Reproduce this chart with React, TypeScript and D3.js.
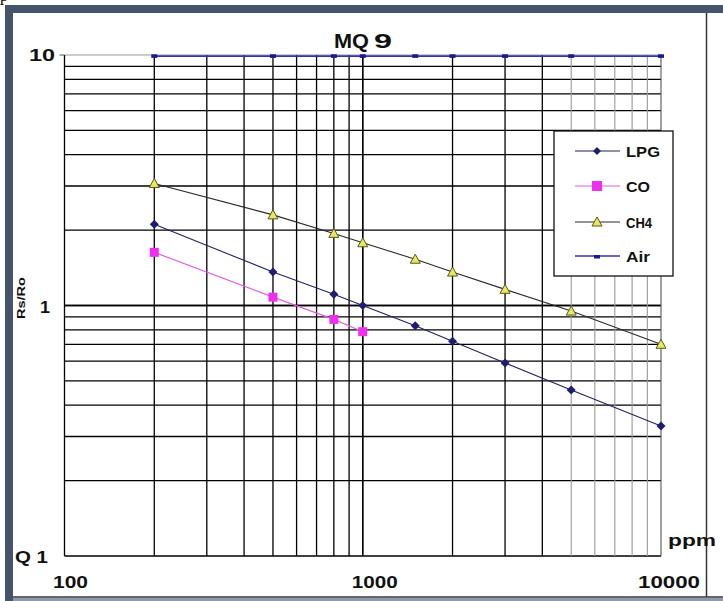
import React from "react";
import * as d3 from "d3";

const W = 723;
const H = 601;

const xTickValues = [100, 1000, 10000];
const xTickLabels = ["100", "1000", "10000"];
const yTickValues = [0.1, 1, 10];
const yTickLabels = ["Q 1", "1", "10"];

const ppm = [200, 500, 800, 1000, 1500, 2000, 3000, 5000, 10000];
const lpg = [2.11, 1.36, 1.11, 1.0, 0.83, 0.72, 0.59, 0.46, 0.33];
const coPpm = [200, 500, 800, 1000];
const co = [1.63, 1.08, 0.88, 0.786];
const ch4 = [3.07, 2.3, 1.94, 1.78, 1.53, 1.36, 1.16, 0.95, 0.7];
const air = [9.9, 9.9, 9.9, 9.9, 9.9, 9.9, 9.9, 9.9, 9.9];

const legendNames = ["LPG", "CO", "CH4", "Air"];

const x = d3.scaleLog().domain([100, 10000]).range([64.5, 661]);
const y = d3.scaleLog().domain([0.1, 10]).range([556, 55]);

const xGrid: number[] = [];
for (let d = 100; d < 10000; d *= 10) for (let k = 1; k <= 10; k++) xGrid.push(d * k);
const yGrid: number[] = [];
for (let d = 0.1; d < 9; d *= 10) for (let k = 1; k <= 10; k++) yGrid.push(+(d * k).toFixed(3));

const line = d3
  .line<[number, number]>()
  .x((d) => x(d[0]))
  .y((d) => y(d[1]));

const FONT = "'Liberation Sans', Arial, sans-serif";

function Diamond({ cx, cy, s, fill }: { cx: number; cy: number; s: number; fill: string }) {
  return <path d={`M${cx},${cy - s}L${cx + s},${cy}L${cx},${cy + s}L${cx - s},${cy}Z`} fill={fill} />;
}
function Tri({ cx, cy }: { cx: number; cy: number }) {
  return (
    <path
      d={`M${cx},${cy - 5}L${cx + 5},${cy + 4}L${cx - 5},${cy + 4}Z`}
      fill="#e6e66a"
      stroke="#5a5a10"
      strokeWidth={1}
    />
  );
}

export default function App() {
  const [x0, x1] = x.range();
  const [yb, yt] = y.range();
  const lpgPts = ppm.map((p, i) => [p, lpg[i]] as [number, number]);
  const coPts = coPpm.map((p, i) => [p, co[i]] as [number, number]);
  const ch4Pts = ppm.map((p, i) => [p, ch4[i]] as [number, number]);
  const airPts = ppm.map((p, i) => [p, air[i]] as [number, number]);

  const legX = 554;
  const legY = 131;
  const rows = [151, 186, 222, 256];
  const legTextLen = [34, 24, 26, 24];

  return (
    <svg
      width={W}
      height={H}
      style={{ position: "absolute", left: 0, top: 0, background: "#fff" }}
      fontFamily={FONT}
    >
      <rect x={0} y={0} width={W} height={H} fill="#fff" />
      <text x={0} y={1} fontFamily="'Liberation Serif', serif" fontSize={16} fill="#000">
        p
      </text>
      {/* frame */}
      <rect x={5} y={5} width={W - 5} height={8} fill="#44546a" />
      <rect x={5} y={5} width={8} height={H - 5} fill="#44546a" />
      <line x1={706.5} y1={13} x2={706.5} y2={597} stroke="#333" strokeWidth={1.5} />
      <line x1={13} y1={597} x2={W} y2={597} stroke="#333" strokeWidth={1.5} />
      <rect x={13} y={598} width={W - 13} height={3} fill="#8e9aab" />

      {/* grid */}
      {yGrid.map((v) => (
        <line
          key={"h" + v}
          x1={x0}
          x2={x1}
          y1={y(v)}
          y2={y(v)}
          stroke={v === 10 ? "#999" : "#000"}
          strokeWidth={v === 10 ? 1 : 1.3}
        />
      ))}
      {xGrid.map((v) => (
        <line
          key={"v" + v}
          x1={x(v)}
          x2={x(v)}
          y1={yt}
          y2={yb}
          stroke={v >= 5000 && v < 10000 ? "#9a9a9a" : v === 10000 ? "#555" : "#000"}
          strokeWidth={v >= 5000 ? 1.1 : 1.3}
        />
      ))}
      <line x1={x0 - 5} x2={x0} y1={yt} y2={yt} stroke="#555" strokeWidth={1} />

      {/* series */}
      <path d={line(airPts) || ""} fill="none" stroke="#3434a8" strokeWidth={1.8} />
      {airPts.map((p, i) => (
        <rect key={"a" + i} x={x(p[0]) - 3} y={y(p[1]) - 1.8} width={6} height={3.6} fill="#1a1a8c" />
      ))}
      <path d={line(ch4Pts) || ""} fill="none" stroke="#2a2a2a" strokeWidth={1.1} />
      <path d={line(lpgPts) || ""} fill="none" stroke="#23235e" strokeWidth={1.1} />
      <path d={line(coPts) || ""} fill="none" stroke="#e060e0" strokeWidth={1.2} />
      {ch4Pts.map((p, i) => (
        <Tri key={"c" + i} cx={x(p[0])} cy={y(p[1])} />
      ))}
      {lpgPts.map((p, i) => (
        <Diamond key={"l" + i} cx={x(p[0])} cy={y(p[1])} s={4.5} fill="#1e1e6e" />
      ))}
      {coPts.map((p, i) => (
        <rect key={"o" + i} x={x(p[0]) - 4.5} y={y(p[1]) - 4.5} width={9} height={9} fill="#ee30ee" />
      ))}

      {/* legend */}
      <rect x={legX} y={legY} width={119} height={145} fill="#fff" stroke="#111" strokeWidth={1.3} />
      <line x1={575} x2={620} y1={rows[0]} y2={rows[0]} stroke="#23235e" strokeWidth={1.2} />
      <Diamond cx={597} cy={rows[0]} s={4} fill="#1e1e6e" />
      <line x1={575} x2={620} y1={rows[1]} y2={rows[1]} stroke="#e060e0" strokeWidth={1.2} />
      <rect x={592} y={rows[1] - 5} width={10} height={10} fill="#ee30ee" />
      <line x1={575} x2={620} y1={rows[2]} y2={rows[2]} stroke="#2a2a2a" strokeWidth={1.2} />
      <Tri cx={597} cy={rows[2]} />
      <line x1={575} x2={620} y1={rows[3]} y2={rows[3]} stroke="#3434a8" strokeWidth={1.6} />
      <rect x={594} y={rows[3] - 1} width={6} height={3.5} fill="#1a1a8c" />
      {legendNames.map((n, i) => (
        <text
          key={n}
          x={626}
          y={rows[i] + 5.5}
          fontSize={15}
          fontWeight="bold"
          fill="#111"
          textLength={legTextLen[i]}
          lengthAdjust="spacingAndGlyphs"
        >
          {n}
        </text>
      ))}

      {/* title */}
      <text x={334} y={48} fontSize={20} fontWeight="bold" fill="#111">
        <tspan textLength={35} lengthAdjust="spacingAndGlyphs">MQ</tspan>
        <tspan x={374} textLength={18} lengthAdjust="spacingAndGlyphs">9</tspan>
      </text>

      {/* y labels */}
      {yTickValues.map((v, i) => {
        const pos = [
          { x: 15, w: 33, dy: 6 },
          { x: 40, w: 10, dy: 7 },
          { x: 29, w: 26, dy: 6 },
        ][i];
        return (
          <text
            key={"yl" + v}
            x={pos.x}
            y={y(v) + pos.dy + (i === 0 ? 1 : 0)}
            fontSize={17}
            fontWeight="bold"
            fill="#111"
            textLength={pos.w}
            lengthAdjust="spacingAndGlyphs"
          >
            {yTickLabels[i]}
          </text>
        );
      })}
      <text
        transform={`translate(25,298) rotate(-90)`}
        textAnchor="middle"
        fontSize={11}
        fontWeight="bold"
        fill="#111"
        textLength={42}
        lengthAdjust="spacingAndGlyphs"
      >
        Rs/Ro
      </text>

      {/* x labels */}
      {xTickValues.map((v, i) => {
        const w = [35, 46, 62][i];
        const cx = x(v) + [6, 12, 8][i];
        return (
          <text
            key={"xl" + v}
            x={cx - w / 2}
            y={588}
            fontSize={17}
            fontWeight="bold"
            fill="#111"
            textLength={w}
            lengthAdjust="spacingAndGlyphs"
          >
            {xTickLabels[i]}
          </text>
        );
      })}
      <text
        x={668}
        y={546}
        fontSize={16}
        fontWeight="bold"
        fill="#111"
        textLength={48}
        lengthAdjust="spacingAndGlyphs"
      >
        ppm
      </text>
    </svg>
  );
}
